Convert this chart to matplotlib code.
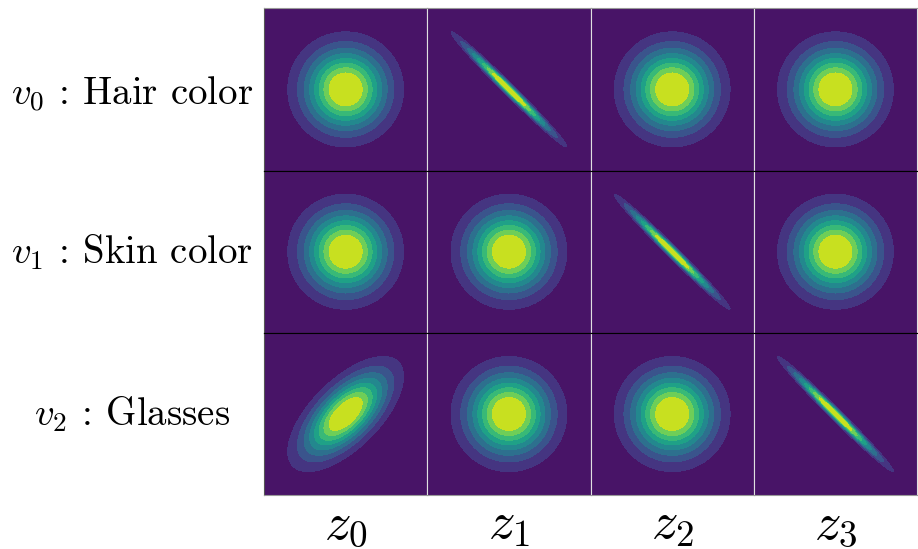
import numpy as np
import matplotlib
matplotlib.use("Agg")
import matplotlib.pyplot as plt

plt.rcParams['mathtext.fontset'] = 'cm'
plt.rcParams['font.family'] = 'serif'
plt.rcParams['font.serif'] = ['cmr10']
plt.rcParams['axes.unicode_minus'] = False

# etiquetas de filas (factores) y columnas (variables latentes)
factores = [r'$v_0$ : Hair color', r'$v_1$ : Skin color', r'$v_2$ : Glasses']
latentes = [r'$z_0$', r'$z_1$', r'$z_2$', r'$z_3$']

# correlación de cada gaussiana 2D (fila = factor, columna = latente)
rho_fila0 = [0.0, -0.99, 0.0, 0.0]
rho_fila1 = [0.0, 0.0, -0.99, 0.0]
rho_fila2 = [0.65, 0.0, 0.0, -0.99]
correlaciones = [rho_fila0, rho_fila1, rho_fila2]

# malla común
x = np.linspace(-3, 3, 400)
X, Y = np.meshgrid(x, x)


def gaussiana(rho):
    cov = np.array([[1.0, rho], [rho, 1.0]])
    inv = np.linalg.inv(cov)
    det = np.linalg.det(cov)
    q = inv[0, 0] * X**2 + 2 * inv[0, 1] * X * Y + inv[1, 1] * Y**2
    return np.exp(-0.5 * q) / (2 * np.pi * np.sqrt(det))


fig, axes = plt.subplots(3, 4, figsize=(9.18, 5.49), dpi=100)
fig.subplots_adjust(left=0.2876, right=0.999, top=0.985, bottom=0.098,
                    wspace=0, hspace=0)

for i, fila in enumerate(correlaciones):
    for j, rho in enumerate(fila):
        ax = axes[i, j]
        Z = gaussiana(rho)
        paso = 0.104 * Z.max()
        niveles = np.append(np.arange(9) * paso, Z.max() * 1.001)
        ax.contourf(X, Y, Z, levels=niveles, cmap='viridis')
        ax.set_xticks([])
        ax.set_yticks([])
        ax.set_xlim(-3, 3)
        ax.set_ylim(-3, 3)
        # separadores: horizontales negros, verticales claros
        for lado in ['top', 'bottom']:
            ax.spines[lado].set_color('black')
            ax.spines[lado].set_linewidth(0.8)
        for lado in ['left', 'right']:
            ax.spines[lado].set_color('#e0e0e0')
            ax.spines[lado].set_linewidth(0.8)
    axes[i, 0].spines['left'].set_color('#555555')
    ypos = 0.47 if i == 0 else 0.5
    axes[i, 0].text(-0.81, ypos, factores[i], transform=axes[i, 0].transAxes,
                    ha='center', va='center', fontsize=28)

for j in range(4):
    axes[0, j].spines['top'].set_color('#999999')
    axes[2, j].spines['bottom'].set_color('#999999')
    axes[2, j].text(0.5, -0.185, latentes[j], transform=axes[2, j].transAxes,
                    ha='center', va='center', fontsize=38)

plt.savefig('out.png', dpi=100)
